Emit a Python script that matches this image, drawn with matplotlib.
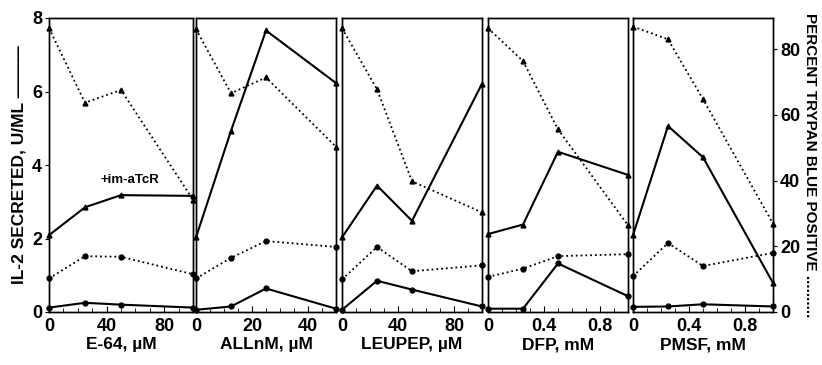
import numpy as np
import matplotlib
matplotlib.use("Agg")
import matplotlib.pyplot as plt
from matplotlib.ticker import MultipleLocator

plt.rcParams['font.family'] = ['Liberation Sans', 'DejaVu Sans']
plt.rcParams['font.weight'] = 'bold'

# x doses per panel
x_e64 = [0, 25, 50, 100]
x_allnm = [0, 12.5, 25, 50]
x_leupep = [0, 25, 50, 100]
x_dfp = [0, 0.25, 0.5, 1.0]
x_pmsf = [0, 0.25, 0.5, 1.0]

xlabels = ["E-64, \u00b5M", "ALLnM, \u00b5M", "LEUPEP, \u00b5M", "DFP, mM", "PMSF, mM"]
xlims = [100, 50, 100, 1.0, 1.0]
xticks = [[0, 40, 80], [0, 20, 40], [0, 40, 80], [0, 0.4, 0.8], [0, 0.4, 0.8]]
xminor = [10, 5, 10, 0.1, 0.1]

# IL-2 secreted (U/ml), with immobilized anti-TcR (solid, triangles)
il2_stim = [
    [2.09, 2.85, 3.18, 3.16],
    [2.03, 4.93, 7.66, 6.23],
    [2.03, 3.44, 2.48, 6.21],
    [2.12, 2.38, 4.36, 3.73],
    [2.09, 5.06, 4.21, 0.79],
]
# IL-2 secreted, unstimulated (solid, circles)
il2_unstim = [
    [0.12, 0.25, 0.20, 0.12],
    [0.06, 0.15, 0.64, 0.09],
    [0.06, 0.85, 0.61, 0.15],
    [0.09, 0.09, 1.32, 0.43],
    [0.14, 0.15, 0.21, 0.15],
]
# percent trypan blue positive, stimulated (dotted, triangles)
trypan_stim = [
    [86.4, 63.7, 67.6, 34.2],
    [86.1, 66.6, 71.4, 50.3],
    [86.4, 67.8, 39.8, 30.3],
    [86.4, 76.4, 55.6, 26.4],
    [86.9, 83.0, 64.8, 26.9],
]
# percent trypan blue positive, unstimulated (dotted, circles)
trypan_unstim = [
    [10.2, 17.0, 16.8, 11.5],
    [10.2, 16.5, 21.6, 19.8],
    [9.9, 19.8, 12.4, 14.2],
    [10.7, 13.2, 17.0, 17.6],
    [10.9, 21.0, 14.0, 18.0],
]
xs = [x_e64, x_allnm, x_leupep, x_dfp, x_pmsf]

W, H = 822, 365
fig = plt.figure(figsize=(W / 100, H / 100), dpi=100)

lefts = [49, 196, 342, 488, 633]
rights = [193, 336, 482, 628, 773]
top, bottom = 18, 312

for i in range(5):
    ax = fig.add_axes([lefts[i] / W, (H - bottom) / H,
                       (rights[i] - lefts[i]) / W, (bottom - top) / H])
    ax2 = ax.twinx()

    ax.plot(xs[i], il2_stim[i], '-', color='black', lw=1.5,
            marker='^', ms=3.5, clip_on=False, zorder=3)
    ax.plot(xs[i], il2_unstim[i], '-', color='black', lw=1.5,
            marker='o', ms=3.5, clip_on=False, zorder=3)
    ax2.plot(xs[i], trypan_stim[i], ':', color='black', lw=1.3,
             marker='^', ms=3.5, clip_on=False, zorder=3)
    ax2.plot(xs[i], trypan_unstim[i], ':', color='black', lw=1.3,
             marker='o', ms=3.5, clip_on=False, zorder=3)

    ax.set_xlim(0, xlims[i])
    ax.set_ylim(0, 8)
    ax2.set_ylim(0, 89.5)
    ax.set_xticks(xticks[i])
    ax.set_xticklabels([f"{t:g}" for t in xticks[i]])
    ax.xaxis.set_minor_locator(MultipleLocator(xminor[i]))
    ax.tick_params(axis='x', which='major', direction='in', length=4,
                   labelsize=13, pad=4)
    ax.tick_params(axis='x', which='minor', direction='in', length=3)
    ax.set_xlabel(xlabels[i], fontsize=12.5, fontweight='bold', labelpad=2)

    if i == 0:
        ax.set_yticks([0, 2, 4, 6, 8])
        ax.tick_params(axis='y', direction='out', length=3, labelsize=13, pad=2)
        ax.set_ylabel("IL-2 SECRETED, U/ML \u2014\u2014\u2014", fontsize=12.5,
                      fontweight='bold', labelpad=4)
        ax.text(56, 3.6, "+im-aTcR", fontsize=9.5, fontweight='bold',
                ha='center', va='center')
    else:
        ax.set_yticks([])
    if i == 4:
        ax2.set_yticks([0, 20, 40, 60, 80])
        ax2.tick_params(axis='y', direction='out', length=3, labelsize=13, pad=2)
        ax2.set_ylabel("PERCENT TRYPAN BLUE POSITIVE ..........", fontsize=11,
                       fontweight='bold', rotation=270, labelpad=12)
    else:
        ax2.set_yticks([])

    for a in (ax, ax2):
        for s in a.spines.values():
            s.set_linewidth(1.0)

fig.savefig("out.png", dpi=100)
